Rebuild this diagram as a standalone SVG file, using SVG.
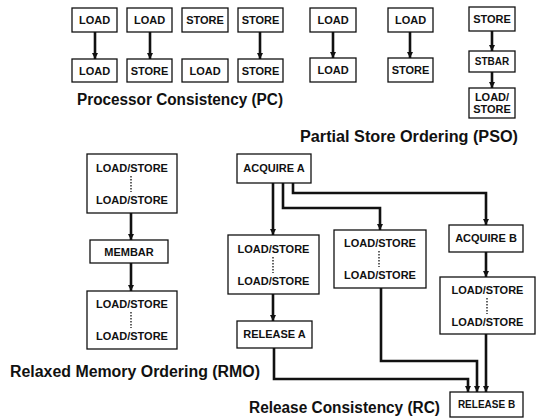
<svg xmlns="http://www.w3.org/2000/svg" width="538" height="418" viewBox="0 0 538 418">
<style>
.box{fill:#fff;stroke:#111;stroke-width:1.3}
.t{font-family:"Liberation Sans",Arial,sans-serif;font-weight:bold;font-size:11px;fill:#111;text-anchor:middle}
.cap{font-family:"Liberation Sans",Arial,sans-serif;font-weight:bold;font-size:16px;fill:#111}
.ln{fill:none;stroke:#111;stroke-width:2.6}
.dot{stroke:#111;stroke-width:1.3;stroke-dasharray:1.5 1.5}
</style>
<defs>
<marker id="ah" markerUnits="userSpaceOnUse" markerWidth="8" markerHeight="8" refX="6" refY="3" orient="auto">
<path d="M0,0 L6,3 L0,6 z" fill="#111"/>
</marker>
</defs>
<rect width="538" height="418" fill="#fff"/>

<g id="connectors">
<path class="ln" d="M95,32 V59" marker-end="url(#ah)"/>
<path class="ln" d="M150,32 V59" marker-end="url(#ah)"/>
<path class="ln" d="M260,32 V59" marker-end="url(#ah)"/>
<path class="ln" d="M333,32 V58" marker-end="url(#ah)"/>
<path class="ln" d="M410,32 V58" marker-end="url(#ah)"/>
<path class="ln" d="M492,31 V51" marker-end="url(#ah)"/>
<path class="ln" d="M492,72 V88" marker-end="url(#ah)"/>
<path class="ln" d="M131,213 V240" marker-end="url(#ah)"/>
<path class="ln" d="M131,263 V291" marker-end="url(#ah)"/>
<path class="ln" d="M273,183 V235" marker-end="url(#ah)"/>
<path class="ln" d="M283,183 V208 H380 V230" marker-end="url(#ah)"/>
<path class="ln" d="M293,183 V193 H486 V225" marker-end="url(#ah)"/>
<path class="ln" d="M486,252 V277" marker-end="url(#ah)"/>
<path class="ln" d="M273,294 V321" marker-end="url(#ah)"/>
<path class="ln" d="M274,348 V379 H468 V392" marker-end="url(#ah)"/>
<path class="ln" d="M381,288 V361 H477 V392" marker-end="url(#ah)"/>
<path class="ln" d="M486,334 V392" marker-end="url(#ah)"/>
</g>

<g id="pc1a"><rect class="box" x="72" y="8" width="45" height="24"/><text class="t" x="94.5" y="24">LOAD</text></g>
<g id="pc1b"><rect class="box" x="72" y="59" width="45" height="23"/><text class="t" x="94.5" y="74.5">LOAD</text></g>
<g id="pc2a"><rect class="box" x="127" y="8" width="45" height="24"/><text class="t" x="149.5" y="24">LOAD</text></g>
<g id="pc2b"><rect class="box" x="127" y="59" width="45" height="23"/><text class="t" x="149.5" y="74.5">STORE</text></g>
<g id="pc3a"><rect class="box" x="182" y="8" width="46" height="24"/><text class="t" x="205" y="24">STORE</text></g>
<g id="pc3b"><rect class="box" x="182" y="59" width="46" height="23"/><text class="t" x="205" y="74.5">LOAD</text></g>
<g id="pc4a"><rect class="box" x="238" y="8" width="45" height="24"/><text class="t" x="260.5" y="24">STORE</text></g>
<g id="pc4b"><rect class="box" x="238" y="59" width="45" height="23"/><text class="t" x="260.5" y="74.5">STORE</text></g>
<text class="cap" x="77" y="105" textLength="206" lengthAdjust="spacingAndGlyphs">Processor Consistency (PC)</text>

<g id="pso1a"><rect class="box" x="310" y="8" width="46" height="24"/><text class="t" x="333" y="24">LOAD</text></g>
<g id="pso1b"><rect class="box" x="310" y="58" width="46" height="24"/><text class="t" x="333" y="74">LOAD</text></g>
<g id="pso2a"><rect class="box" x="388" y="8" width="45" height="24"/><text class="t" x="410.5" y="24">LOAD</text></g>
<g id="pso2b"><rect class="box" x="388" y="58" width="45" height="24"/><text class="t" x="410.5" y="74">STORE</text></g>
<g id="pso3a"><rect class="box" x="469" y="7" width="46" height="24"/><text class="t" x="492" y="23">STORE</text></g>
<g id="pso3b"><rect class="box" x="469" y="51" width="46" height="21"/><text class="t" x="492" y="65" style="font-size:10px">STBAR</text></g>
<g id="pso3c"><rect class="box" x="469" y="88" width="46" height="30"/><text class="t" x="492" y="101">LOAD/</text><text class="t" x="492" y="113">STORE</text></g>
<text class="cap" x="300" y="142" textLength="218" lengthAdjust="spacingAndGlyphs">Partial Store Ordering (PSO)</text>

<g id="rmo1"><rect class="box" x="87" y="154" width="90" height="59"/><text class="t" x="132" y="172">LOAD/STORE</text><line class="dot" x1="131" y1="176" x2="131" y2="192"/><text class="t" x="132" y="204">LOAD/STORE</text></g>
<g id="rmo2"><rect class="box" x="90" y="240" width="78" height="23"/><text class="t" x="129" y="255.5">MEMBAR</text></g>
<g id="rmo3"><rect class="box" x="87" y="291" width="90" height="58"/><text class="t" x="132" y="308">LOAD/STORE</text><line class="dot" x1="131" y1="312" x2="131" y2="328"/><text class="t" x="132" y="340">LOAD/STORE</text></g>
<text class="cap" x="10" y="377" textLength="250" lengthAdjust="spacingAndGlyphs">Relaxed Memory Ordering (RMO)</text>

<g id="acqA"><rect class="box" x="237" y="154" width="74" height="29"/><text class="t" x="274" y="172">ACQUIRE A</text></g>
<g id="rc1"><rect class="box" x="228" y="235" width="91" height="59"/><text class="t" x="273.5" y="253">LOAD/STORE</text><line class="dot" x1="273" y1="257" x2="273" y2="273"/><text class="t" x="273.5" y="285">LOAD/STORE</text></g>
<g id="relA"><rect class="box" x="237" y="321" width="75" height="27"/><text class="t" x="274.5" y="338">RELEASE A</text></g>
<g id="rc2"><rect class="box" x="334" y="230" width="92" height="58"/><text class="t" x="380" y="247">LOAD/STORE</text><line class="dot" x1="379" y1="251" x2="379" y2="267"/><text class="t" x="380" y="279">LOAD/STORE</text></g>
<g id="acqB"><rect class="box" x="449" y="225" width="74" height="27"/><text class="t" x="486" y="242">ACQUIRE B</text></g>
<g id="rc3"><rect class="box" x="440" y="277" width="95" height="57"/><text class="t" x="487.5" y="294">LOAD/STORE</text><line class="dot" x1="487" y1="298" x2="487" y2="314"/><text class="t" x="487.5" y="326">LOAD/STORE</text></g>
<g id="relB"><rect class="box" x="450" y="392" width="73" height="25"/><text class="t" x="486.5" y="408" style="font-size:10px">RELEASE B</text></g>
<text class="cap" x="249" y="413" textLength="191" lengthAdjust="spacingAndGlyphs">Release Consistency (RC)</text>
</svg>
